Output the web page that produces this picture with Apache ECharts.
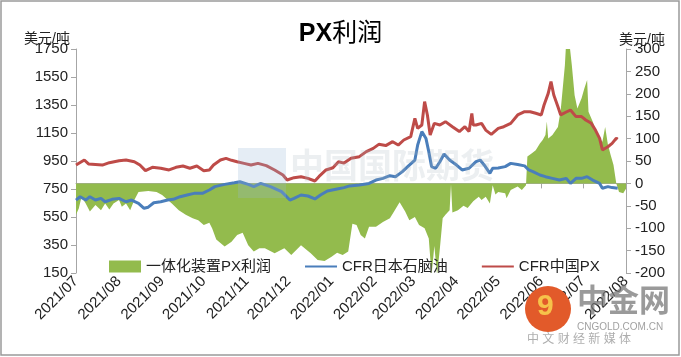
<!DOCTYPE html>
<html>
<head>
<meta charset="utf-8">
<script src="https://cdn.jsdelivr.net/npm/echarts@6/dist/echarts.min.js"></script>
<style>
html,body{margin:0;padding:0;background:#fff;}
#c{width:681px;height:357px;}
</style>
</head>
<body>
<div id="c"></div>
<script>
// ---- data ----
const seriesNames = ['一体化装置PX利润', 'CFR日本石脑油', 'CFR中国PX'];
const leftTicks = [150, 350, 550, 750, 950, 1150, 1350, 1550, 1750];
const rightTicks = [-200, -150, -100, -50, 0, 50, 100, 150, 200, 250, 300];

const redDates = ['2021-07-01','2021-07-07','2021-07-10','2021-07-20','2021-07-25','2021-08-01','2021-08-06','2021-08-12','2021-08-16','2021-08-20','2021-08-25','2021-08-31','2021-09-06','2021-09-11','2021-09-16','2021-09-21','2021-09-26','2021-10-01','2021-10-05','2021-10-08','2021-10-13','2021-10-17','2021-10-21','2021-10-25','2021-10-30','2021-11-04','2021-11-09','2021-11-15','2021-11-21','2021-11-27','2021-11-30','2021-12-05','2021-12-10','2021-12-15','2021-12-20','2021-12-23','2021-12-28','2022-01-02','2022-01-06','2022-01-10','2022-01-15','2022-01-21','2022-01-26','2022-01-31','2022-02-04','2022-02-09','2022-02-14','2022-02-18','2022-02-22','2022-02-27','2022-03-02','2022-03-04','2022-03-07','2022-03-09','2022-03-11','2022-03-13','2022-03-16','2022-03-20','2022-03-24','2022-03-29','2022-04-03','2022-04-07','2022-04-10','2022-04-12','2022-04-13','2022-04-15','2022-04-19','2022-04-22','2022-04-26','2022-05-01','2022-05-05','2022-05-10','2022-05-15','2022-05-20','2022-05-24','2022-05-28','2022-06-01','2022-06-03','2022-06-06','2022-06-08','2022-06-10','2022-06-13','2022-06-15','2022-06-19','2022-06-22','2022-06-26','2022-06-30','2022-07-03','2022-07-07','2022-07-10','2022-07-13','2022-07-15','2022-07-19','2022-07-22','2022-07-25','2022-07-26'];
const redValues = [921,957,929,921,938,952,957,945,921,881,905,898,886,905,914,898,914,881,886,921,957,969,955,945,933,921,933,917,886,850,814,831,838,826,807,840,886,902,945,935,969,981,1017,1040,1069,1060,1088,1064,1100,1124,1255,1183,1207,1374,1279,1136,1219,1207,1231,1195,1160,1195,1160,1290,1207,1207,1219,1171,1140,1183,1195,1219,1279,1302,1302,1291,1279,1350,1433,1517,1421,1338,1279,1300,1314,1267,1267,1243,1219,1171,1112,1029,1052,1076,1112,1105];

const blueDates = ['2021-07-01','2021-07-04','2021-07-08','2021-07-11','2021-07-15','2021-07-19','2021-07-22','2021-07-27','2021-08-01','2021-08-06','2021-08-10','2021-08-15','2021-08-19','2021-08-22','2021-08-26','2021-08-31','2021-09-05','2021-09-09','2021-09-14','2021-09-19','2021-09-24','2021-09-30','2021-10-05','2021-10-09','2021-10-16','2021-10-23','2021-10-27','2021-11-02','2021-11-06','2021-11-11','2021-11-18','2021-11-26','2021-12-02','2021-12-05','2021-12-10','2021-12-15','2021-12-20','2021-12-24','2021-12-29','2022-01-05','2022-01-10','2022-01-14','2022-01-21','2022-01-28','2022-02-02','2022-02-07','2022-02-12','2022-02-16','2022-02-21','2022-02-26','2022-03-02','2022-03-04','2022-03-07','2022-03-10','2022-03-12','2022-03-14','2022-03-17','2022-03-20','2022-03-23','2022-03-27','2022-04-01','2022-04-05','2022-04-10','2022-04-15','2022-04-18','2022-04-21','2022-04-25','2022-04-27','2022-05-01','2022-05-06','2022-05-10','2022-05-15','2022-05-20','2022-05-23','2022-05-26','2022-05-31','2022-06-04','2022-06-09','2022-06-14','2022-06-19','2022-06-22','2022-06-26','2022-06-30','2022-07-04','2022-07-08','2022-07-13','2022-07-15','2022-07-19','2022-07-22','2022-07-26'];
const blueValues = [671,695,671,695,671,683,659,676,683,659,671,648,612,620,652,659,671,676,695,707,719,719,743,767,783,795,802,783,767,790,767,731,671,683,707,700,679,707,736,750,760,772,779,790,814,826,845,838,874,921,957,1064,1160,1110,1017,910,898,945,1000,957,921,886,898,945,957,920,862,898,900,910,933,925,915,886,874,850,838,826,814,826,790,826,826,838,814,790,755,767,760,755];

const greenDates = ['2021-07-01','2021-07-03','2021-07-05','2021-07-08','2021-07-11','2021-07-15','2021-07-19','2021-07-22','2021-07-25','2021-07-28','2021-08-01','2021-08-03','2021-08-06','2021-08-09','2021-08-12','2021-08-15','2021-08-22','2021-08-28','2021-09-01','2021-09-08','2021-09-13','2021-09-18','2021-09-23','2021-09-27','2021-10-01','2021-10-05','2021-10-07','2021-10-10','2021-10-13','2021-10-16','2021-10-21','2021-10-25','2021-10-29','2021-11-02','2021-11-06','2021-11-10','2021-11-14','2021-11-21','2021-11-28','2021-12-03','2021-12-10','2021-12-17','2021-12-22','2021-12-27','2022-01-01','2022-01-05','2022-01-09','2022-01-13','2022-01-16','2022-01-19','2022-01-22','2022-01-25','2022-01-28','2022-02-02','2022-02-07','2022-02-12','2022-02-15','2022-02-19','2022-02-23','2022-02-26','2022-03-02','2022-03-05','2022-03-09','2022-03-12','2022-03-14','2022-03-16','2022-03-18','2022-03-20','2022-03-22','2022-03-24','2022-03-27','2022-03-28','2022-03-29','2022-04-02','2022-04-06','2022-04-09','2022-04-13','2022-04-17','2022-04-19','2022-04-22','2022-04-25','2022-04-27','2022-04-29','2022-05-01','2022-05-06','2022-05-07','2022-05-10','2022-05-15','2022-05-18','2022-05-21','2022-05-22','2022-05-25','2022-05-28','2022-05-31','2022-06-02','2022-06-04','2022-06-05','2022-06-06','2022-06-09','2022-06-13','2022-06-15','2022-06-18','2022-06-19','2022-06-21','2022-06-23','2022-06-25','2022-06-27','2022-06-30','2022-07-02','2022-07-04','2022-07-05','2022-07-08','2022-07-12','2022-07-15','2022-07-17','2022-07-19','2022-07-21','2022-07-23','2022-07-25','2022-07-27','2022-07-30','2022-08-01'];
const greenValues = [-70,-56,-30,-45,-63,-48,-60,-45,-58,-45,-37,-52,-45,-60,-37,-19,-17,-19,-26,-45,-60,-70,-78,-82,-93,-88,-100,-125,-133,-141,-130,-115,-110,-138,-152,-145,-145,-156,-145,-160,-138,-156,-171,-173,-164,-155,-160,-152,-90,-93,-115,-123,-97,-97,-86,-78,-63,-42,-63,-82,-75,-93,-100,-123,-205,-140,-205,-145,-78,-70,-60,-2,-65,-60,-50,-55,-40,-30,-37,-30,-45,-4,-25,-19,-22,-33,-15,-7,-15,-4,60,67,74,89,97,108,138,100,108,126,164,264,320,320,264,197,167,190,212,231,160,138,104,93,126,86,63,41,0,-19,-22,-12];

// ---- chart ----
const GREEN = '#93bb4d', BLUE = '#4a7ebb', RED = '#be4b48';
const FONT = '"Liberation Sans","Noto Sans CJK SC",sans-serif';
const zip = (d, v) => d.map((x, i) => [x, v[i]]);
const pad = n => (n < 10 ? '0' : '') + n;

const chart = echarts.init(document.getElementById('c'), null, {renderer: 'canvas'});
chart.setOption({
  animation: false,
  backgroundColor: '#fff',
  textStyle: {fontFamily: FONT},
  title: {
    text: '{a|PX}{b|利润}', left: 'center', top: 17,
    textStyle: {
      rich: {
        a: {fontSize: 25, fontWeight: 'bold', color: '#000', fontFamily: FONT},
        b: {fontSize: 25, fontWeight: 'normal', color: '#000', fontFamily: FONT}
      }
    }
  },
  grid: {left: 76, right: 55, top: 49, bottom: 84, containLabel: false},
  legend: {
    left: 104, top: 254, itemGap: 33, itemWidth: 32, itemHeight: 12,
    textStyle: {fontSize: 15, color: '#222', fontFamily: FONT},
    data: [
      {name: seriesNames[0], icon: 'rect'},
      {name: seriesNames[1], itemStyle: {opacity: 0, borderWidth: 0}},
      {name: seriesNames[2], itemStyle: {opacity: 0, borderWidth: 0}}
    ]
  },
  xAxis: {
    type: 'time', min: '2021-07-01', max: '2022-08-01',
    splitNumber: 13, minInterval: 28 * 86400000, maxInterval: 31 * 86400000,
    axisLine: {lineStyle: {color: '#a6a6a6', width: 1}},
    axisTick: {show: true, length: 5, lineStyle: {color: '#a6a6a6'}},
    splitLine: {show: false},
    axisLabel: {
      rotate: 45, fontSize: 15, color: '#222', margin: 6, hideOverlap: false,
      showMinLabel: true, showMaxLabel: true,
      formatter: v => { const d = new Date(v); return d.getFullYear() + '/' + pad(d.getMonth() + 1); }
    }
  },
  yAxis: [{
    type: 'value', min: leftTicks[0], max: leftTicks[leftTicks.length - 1], interval: leftTicks[1] - leftTicks[0],
    axisLine: {show: true, lineStyle: {color: '#a6a6a6'}},
    axisTick: {show: true, length: 5, lineStyle: {color: '#a6a6a6'}},
    splitLine: {show: false},
    axisLabel: {fontSize: 15, color: '#222', margin: 8, formatter: v => String(v)}
  }, {
    type: 'value', min: rightTicks[0], max: rightTicks[rightTicks.length - 1], interval: rightTicks[1] - rightTicks[0],
    position: 'right',
    axisLine: {show: true, lineStyle: {color: '#a6a6a6'}},
    axisTick: {show: true, length: 5, lineStyle: {color: '#a6a6a6'}},
    splitLine: {show: false},
    axisLabel: {fontSize: 15, color: '#222', margin: 9, formatter: v => String(v)}
  }],
  graphic: [
    {type: 'rect', shape: {x: 1, y: 1, width: 678, height: 354}, style: {fill: 'none', stroke: '#9a9a9a', lineWidth: 1.5}, z: 100},
    {type: 'text', left: 24, top: 32, style: {text: '美元/吨', fontSize: 14, fill: '#222', fontFamily: FONT}},
    {type: 'text', left: 619, top: 33, style: {text: '美元/吨', fontSize: 14, fill: '#222', fontFamily: FONT}},
    {type: 'rect', shape: {x: 238, y: 148, width: 48, height: 50}, style: {fill: 'rgba(150,185,215,0.25)'}, z: 50},
    {type: 'text', left: 290, top: 152, style: {text: '中国国际期货', fontSize: 34, fontWeight: 'bold', fill: 'rgba(170,180,190,0.22)', fontFamily: FONT}, z: 50},
    {type: 'circle', shape: {cx: 548, cy: 309, r: 23}, style: {fill: '#e25a2a'}, z: 50},
    {type: 'text', left: 537, top: 292, style: {text: '9', fontSize: 30, fontWeight: 'bold', fill: '#f6c24a', fontFamily: FONT}, z: 51},
    {type: 'text', left: 577, top: 287, style: {text: '中金网', fontSize: 31, fontWeight: 'bold', fill: 'rgba(120,120,120,0.75)', fontFamily: FONT}, z: 50},
    {type: 'text', left: 577, top: 322, style: {text: 'CNGOLD.COM.CN', fontSize: 10, fill: 'rgba(120,120,120,0.7)', fontFamily: FONT}, z: 50},
    {type: 'text', left: 527, top: 334, style: {text: '中 文 财 经 新 媒 体', fontSize: 12, fill: 'rgba(140,140,140,0.7)', fontFamily: FONT}, z: 50}
  ],
  series: [{
    name: seriesNames[0], type: 'line', yAxisIndex: 1, symbol: 'none',
    data: zip(greenDates, greenValues),
    lineStyle: {width: 0}, itemStyle: {color: GREEN},
    areaStyle: {color: GREEN, opacity: 1}, z: 1
  }, {
    name: seriesNames[1], type: 'line', yAxisIndex: 0, symbol: 'none',
    data: zip(blueDates, blueValues),
    lineStyle: {color: BLUE, width: 3}, itemStyle: {color: BLUE}, z: 3
  }, {
    name: seriesNames[2], type: 'line', yAxisIndex: 0, symbol: 'none',
    data: zip(redDates, redValues),
    lineStyle: {color: RED, width: 3}, itemStyle: {color: RED}, z: 4
  }]
});
</script>
</body>
</html>
